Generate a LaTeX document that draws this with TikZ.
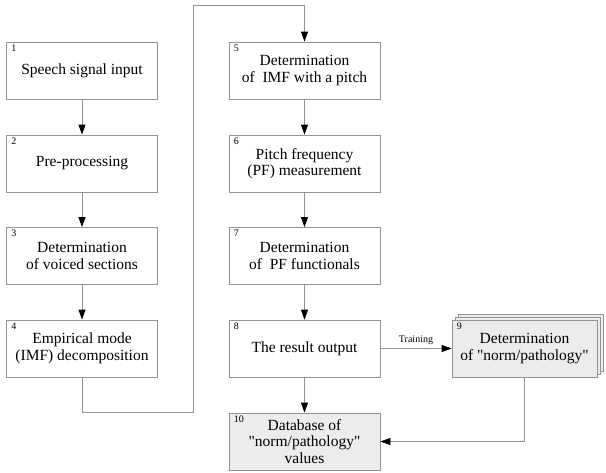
\documentclass[tikz,border=0pt]{standalone}
\usepackage{fontspec}
\setmainfont{Liberation Serif}[Ligatures=TeXOff]
\usetikzlibrary{arrows.meta, positioning, shadows}

\definecolor{linegray}{HTML}{939393}
\definecolor{boxfill}{HTML}{ECECEC}

\tikzset{
  stage/.style={draw=linegray, line width=0.8pt, minimum width=151pt, minimum height=57pt,
    align=center, font=\rmfamily\fontsize{15.5}{16.5}\selectfont, inner sep=2pt},
  shaded/.style={stage, fill=boxfill},
  num/.style={anchor=north west, font=\rmfamily\fontsize{10}{11}\selectfont, inner xsep=5pt, inner ysep=3pt},
  flow/.style={draw=linegray, line width=0.8pt, -{Triangle[length=10pt, width=7pt, color=black]}},
  lab/.style={font=\rmfamily\fontsize{10}{11}\selectfont}
}

\begin{document}
\begin{tikzpicture}[x=1pt, y=-1pt]
  \useasboundingbox (0,0) rectangle (606,472);

  % العمود الأيسر
  \node[stage] (b1) at (82,70.5) {Speech signal input};
  \node[stage] (b2) at (82,163.5) {Pre-processing};
  \node[stage] (b3) at (82,256) {Determination\\of voiced sections};
  \node[stage] (b4) at (82,348.5) {Empirical mode\\(IMF) decomposition};

  % العمود الأيمن
  \node[stage] (b5) at (304.5,70.5) {Determination\\of \ IMF with a pitch};
  \node[stage] (b6) at (304.5,163.5) {Pitch frequency\\(PF) measurement};
  \node[stage] (b7) at (304.5,256) {Determination\\of \ PF functionals};
  \node[stage] (b8) at (304.5,348.5) {The result output};
  \node[shaded] (b10) at (304.5,441.5) {Database of\\"norm/pathology"\\values};

  % الكتلة المكدسة
  \node[shaded, minimum width=145pt, double copy shadow={shadow xshift=3pt, shadow yshift=3pt}]
    (b9) at (524.5,348.5) {Determination\\of "norm/pathology"};

  % الأرقام
  \foreach \i in {1,...,10}
    \node[num] at (b\i.north west) {\i};

  % نقاط الانعطاف
  \coordinate (c1) at (193,412);
  \coordinate (c2) at (193,5);

  % الأسهم
  \draw[flow] (b1) -- (b2);
  \draw[flow] (b2) -- (b3);
  \draw[flow] (b3) -- (b4);
  \draw[flow] (b4.south) |- (c1) -- (c2) -| (b5.north);
  \draw[flow] (b5) -- (b6);
  \draw[flow] (b6) -- (b7);
  \draw[flow] (b7) -- (b8);
  \draw[flow] (b8) -- (b10);
  \draw[flow] (b8.east) -- node[lab, above] {Training} (b9.west);
  \draw[flow] (b9.south) |- (b10.east);
\end{tikzpicture}
\end{document}
